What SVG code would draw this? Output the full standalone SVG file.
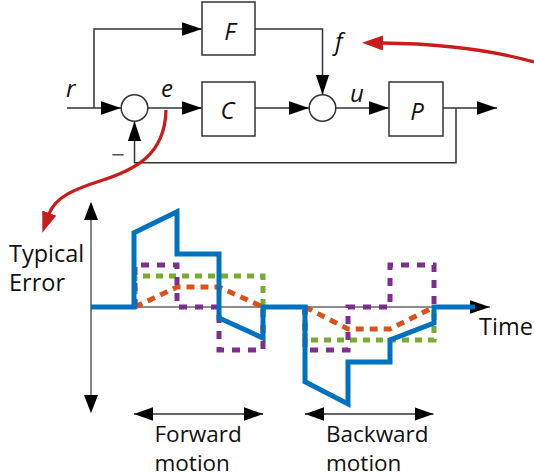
<svg xmlns="http://www.w3.org/2000/svg" width="534" height="476" viewBox="0 0 534 476">
<defs>
<style>
.ln{fill:none;stroke:#333;stroke-width:1.5}
.box{fill:#fff;stroke:#333;stroke-width:1.5}
.lbl{font-family:"Open Sans","Noto Sans",sans-serif;font-style:italic;font-size:24px;fill:#111}
.txt{font-family:"Open Sans","Noto Sans",sans-serif;font-size:23.5px;fill:#111}
.ax{fill:none;stroke:#666;stroke-width:1.6}
.red{fill:none;stroke:#C81D1D;stroke-width:3.3}
.ser{fill:none;stroke-width:5}
</style>
<marker id="ah" markerUnits="userSpaceOnUse" markerWidth="20" markerHeight="14" refX="20" refY="6.7" orient="auto" viewBox="0 0 20 13.4"><path d="M0,0L20,6.7L0,13.4z" fill="#000"/></marker>
<marker id="ah2" markerUnits="userSpaceOnUse" markerWidth="19" markerHeight="14" refX="19" refY="6.8" orient="auto-start-reverse" viewBox="0 0 19 13.6"><path d="M0,0L19,6.8L0,13.6z" fill="#000"/></marker>
<marker id="rah" markerUnits="userSpaceOnUse" markerWidth="21" markerHeight="15" refX="1" refY="7.5" orient="auto" viewBox="0 0 21 15"><path d="M0,0L21,7.5L0,15z" fill="#C81D1D"/></marker>
</defs>
<rect width="534" height="476" fill="#fff"/>
<g id="connectors">
<path class="ln" d="M67,108H121" marker-end="url(#ah)"/>
<path class="ln" d="M94,108V29H202" marker-end="url(#ah)"/>
<path class="ln" d="M147.8,108H202" marker-end="url(#ah)"/>
<path class="ln" d="M255,108H309" marker-end="url(#ah)"/>
<path class="ln" d="M255,29H322.5V94.7" marker-end="url(#ah)"/>
<path class="ln" d="M335.8,108H389" marker-end="url(#ah)"/>
<path class="ln" d="M443,108H497" marker-end="url(#ah)"/>
<path class="ln" d="M456,108V162.7H134.5V121.3" marker-end="url(#ah)"/>
</g>
<g id="sum1"><circle cx="134.5" cy="108" r="13.3" class="box"/></g>
<g id="sum2"><circle cx="322.5" cy="108" r="13.3" class="box"/></g>
<g id="F"><rect x="202" y="2" width="53" height="53" class="box"/><text class="lbl" x="230" y="39.5" text-anchor="middle">F</text></g>
<g id="C"><rect x="202" y="82" width="53" height="54" class="box"/><text class="lbl" x="227.5" y="119" text-anchor="middle">C</text></g>
<g id="P"><rect x="389" y="82" width="54" height="54" class="box"/><text class="lbl" x="417" y="120" text-anchor="middle">P</text></g>
<g id="labels">
<text class="lbl" x="66" y="97">r</text>
<text class="lbl" x="161" y="97">e</text>
<text class="lbl" x="335" y="50">f</text>
<text class="lbl" x="350" y="102">u</text>
<text class="lbl" x="118" y="162.5" text-anchor="middle" style="font-style:normal;fill:#555">−</text>
</g>
<g id="annotations">
<path class="red" d="M166,110C165,155 135,170 100,181C75,189 55,197 49,214" marker-end="url(#rah)"/>
<path class="red" d="M534,62Q470,44 382,43" marker-end="url(#rah)"/>
</g>
<g id="axes">
<path class="ax" d="M91,220V395" />
<path d="M84,220L91,201.7L98,220z M84,395L91,413.3L98,395z" fill="#000"/>
<path class="ax" d="M91,307H490" marker-end="url(#ah)"/>
</g>
<g id="series">
<path class="ser" stroke="#77AC30" stroke-dasharray="7 6" d="M135,307V276H263V307M305,307V340H434V307"/>
<path class="ser" stroke="#D95319" stroke-dasharray="8 6" d="M135,307L177,287H219L263,307M305,307L348,329H390L434,307"/>
<path class="ser" stroke="#7E2F8E" stroke-dasharray="8 8" d="M135,307V265H177V307H219V350H263V307M305,307V350H348V307H390V265H434V307"/>
<path class="ser" stroke="#0072BD" stroke-width="5.5" d="M91,307H134V232.7L177,211.7V254H219V318L263,338V307H305V381.7L348,404V362H390V340L434,323V307H475"/>
</g>
<g id="motion">
<path class="ln" stroke="#000" d="M134,414H263" marker-start="url(#ah2)" marker-end="url(#ah2)"/>
<path class="ln" stroke="#000" d="M305,414H433.5" marker-start="url(#ah2)" marker-end="url(#ah2)"/>
</g>
<g id="texts">
<text class="txt" x="9" y="261.7">Typical<tspan x="9" y="290.7">Error</tspan></text>
<text class="txt" x="479" y="335">Time</text>
<text class="txt" x="154.5" y="441.5" style="font-size:22.5px">Forward<tspan x="154.5" y="470.5">motion</tspan></text>
<text class="txt" x="326" y="441.5" style="font-size:22.5px">Backward<tspan x="326" y="470.5">motion</tspan></text>
</g>
</svg>
